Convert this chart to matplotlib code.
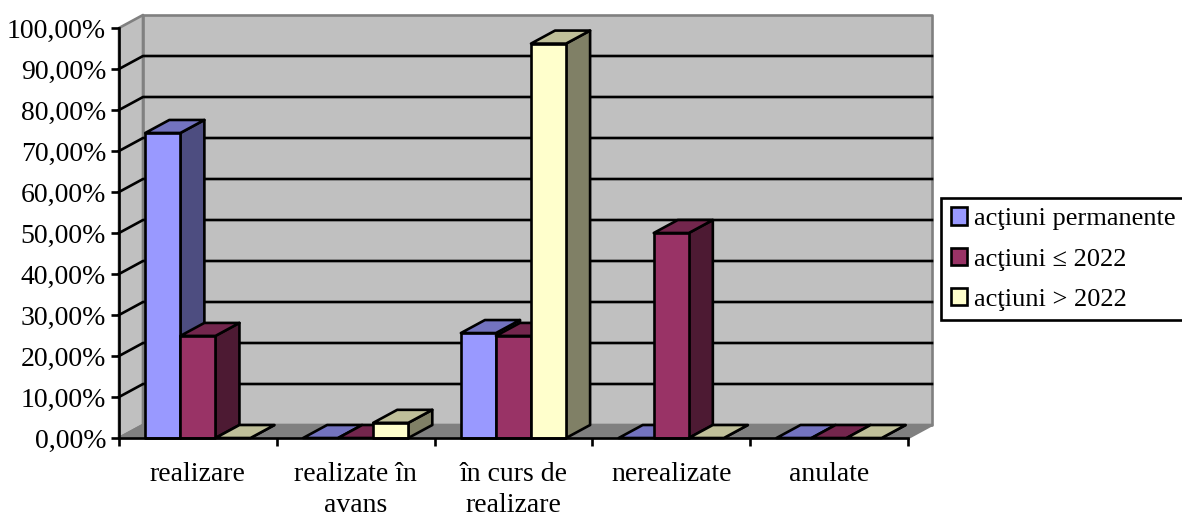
import matplotlib
matplotlib.use('Agg')
import matplotlib.pyplot as plt
from matplotlib.patches import Polygon, Patch

plt.rcParams['font.family'] = ['Liberation Serif', 'DejaVu Serif']

categories = ['realizare', 'realizate în\navans', 'în curs de\nrealizare', 'nerealizate', 'anulate']
permanente = [74.4, 0, 25.6, 0, 0]
pana_2022 = [24.9, 0, 24.9, 50, 0]
dupa_2022 = [0, 3.7, 96.2, 0, 0]
series_names = ['acţiuni permanente', 'acţiuni ≤ 2022', 'acţiuni > 2022']
y_ticks = [0, 10, 20, 30, 40, 50, 60, 70, 80, 90, 100]

# front / top / side colours for each series
colors = [('#9999FF', '#7373BF', '#4D4D80'),
          ('#993366', '#73264D', '#4D1A33'),
          ('#FFFFCC', '#BFBF99', '#808066')]

W, H = 1182, 515
fig = plt.figure(figsize=(W / 100, H / 100), dpi=100)
ax = fig.add_axes([119 / W, 1 - 438 / H, 789 / W, 410 / H])
ax.set_xlim(0, 5)
ax.set_ylim(0, 100)
ax.patch.set_visible(False)

# depth of the fake 3d box, in data units
dx = 24 / 157.8
dy = 13 / 4.1
lw = 1.9
fs = 20


def poly(pts, face, edge='black', z=3, width=lw):
    ax.add_patch(Polygon(pts, closed=True, facecolor=face, edgecolor=edge, linewidth=width,
                         zorder=z, clip_on=False, joinstyle='round'))


# walls and floor
poly([(0, 0), (dx, dy), (dx, 100 + dy), (0, 100)], '#C0C0C0', '#808080', 1)
poly([(dx, dy), (5 + dx, dy), (5 + dx, 100 + dy), (dx, 100 + dy)], '#C0C0C0', '#808080', 1)
poly([(0, 0), (dx, dy), (5 + dx, dy), (5, 0)], '#808080', '#808080', 1)

for v in y_ticks[1:-1]:
    ax.plot([0, dx, 5 + dx], [v, v + dy, v + dy], color='black', lw=lw, zorder=1.5, clip_on=False)

# bars, left to right so each one covers the side of the previous
bar_w = 1 / 4.5
gap = bar_w * 0.75
for i in range(len(categories)):
    for j, vals in enumerate([permanente, pana_2022, dupa_2022]):
        x0 = i + gap + j * bar_w
        x1 = x0 + bar_w
        v = vals[i]
        front, top, side = colors[j]
        z = 3 + i + j * 0.1
        poly([(x1, 0), (x1 + dx, dy), (x1 + dx, v + dy), (x1, v)], side, z=z)
        poly([(x0, v), (x0 + dx, v + dy), (x1 + dx, v + dy), (x1, v)], top, z=z)
        if v > 0:
            poly([(x0, 0), (x1, 0), (x1, v), (x0, v)], front, z=z)

for s in ['top', 'right']:
    ax.spines[s].set_visible(False)
for s in ['left', 'bottom']:
    ax.spines[s].set_linewidth(lw)
    ax.spines[s].set_zorder(20)

ax.set_yticks(y_ticks)
ax.set_yticklabels([f'{v:.2f}%'.replace('.', ',') for v in y_ticks], fontsize=fs)
ax.tick_params(axis='y', length=5.8, width=lw, pad=3.5)
ax.set_xticks(range(6))
ax.set_xticklabels([])
ax.tick_params(axis='x', which='major', length=5.8, width=lw)
ax.set_xticks([i + 0.5 for i in range(5)], minor=True)
ax.set_xticklabels(categories, minor=True, fontsize=20, linespacing=1.32)
ax.tick_params(axis='x', which='minor', length=0, pad=17)

handles = [Patch(facecolor=c[0], edgecolor='black', linewidth=lw) for c in colors]
leg = ax.legend(handles, series_names, loc='upper left', bbox_to_anchor=(941 / W, 1 - 198 / H),
                bbox_transform=fig.transFigure, fontsize=19, frameon=True, fancybox=False,
                framealpha=1, edgecolor='black', borderaxespad=0, borderpad=0.36,
                handlelength=0.62, handleheight=0.62, handletextpad=0.28, labelspacing=0.66)
leg.get_frame().set_linewidth(lw)
leg.set_zorder(30)

plt.savefig('out.png', dpi=100)
